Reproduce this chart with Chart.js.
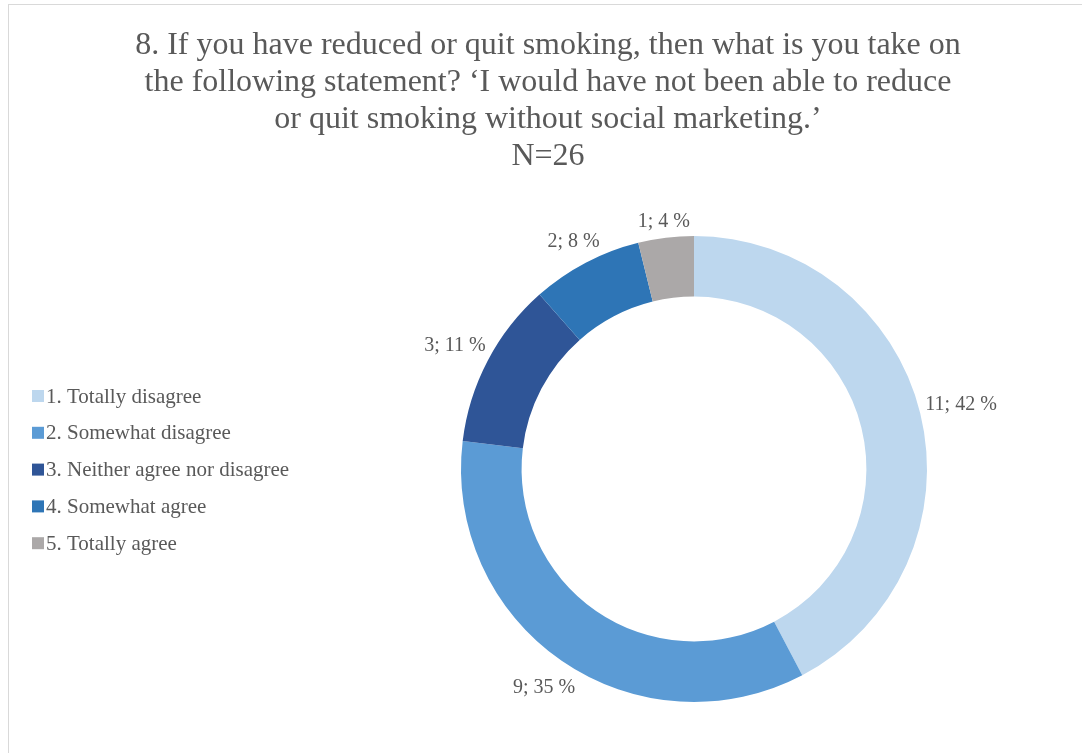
<!DOCTYPE html>
<html>
<head>
<meta charset="utf-8">
<title>Social marketing and smoking</title>
<script src="https://cdn.jsdelivr.net/npm/chart.js@4"></script>
<style>
  html, body { margin: 0; padding: 0; background: #ffffff; }
  #frame { position: absolute; left: 8px; top: 4px; width: 1074px; height: 749px;
           border-top: 1px solid #d9d9d9; border-left: 1px solid #d9d9d9; box-sizing: border-box; }
  #wrap { position: absolute; left: 0; top: 0; width: 1082px; height: 753px; }
</style>
</head>
<body>
<div id="frame"></div>
<div id="wrap"><canvas id="chart" width="1082" height="753"></canvas></div>
<script>
const titleLines = [
  "8. If you have reduced or quit smoking, then what is you take on",
  "the following statement? \u2018I would have not been able to reduce",
  "or quit smoking without social marketing.\u2019",
  "N=26"
];
const categories = [
  "1. Totally disagree",
  "2. Somewhat disagree",
  "3. Neither agree nor disagree",
  "4. Somewhat agree",
  "5. Totally agree"
];
const counts = [11, 9, 3, 2, 1];
const percentLabels = ["42 %", "35 %", "11 %", "8 %", "4 %"];
const colors = ["#BDD7EE", "#5B9BD5", "#2F5597", "#2E75B6", "#ABA8A8"];

const TEXT_COLOR = "#595959";
const FONT_FAMILY = "'Liberation Serif', 'Times New Roman', serif";

// Multi-line heading, centred over the whole canvas
const heading = {
  id: "heading",
  afterDraw(chart) {
    const ctx = chart.ctx;
    ctx.save();
    ctx.font = "32px " + FONT_FAMILY;
    ctx.fillStyle = TEXT_COLOR;
    ctx.textAlign = "center";
    ctx.textBaseline = "alphabetic";
    titleLines.forEach((line, i) => ctx.fillText(line, 548, 54 + i * 37));
    ctx.restore();
  }
};

// Legend drawn as a vertical list on the left side of the canvas
const sideLegend = {
  id: "sideLegend",
  afterDraw(chart) {
    const ctx = chart.ctx;
    ctx.save();
    ctx.font = "21px " + FONT_FAMILY;
    ctx.textBaseline = "middle";
    ctx.textAlign = "left";
    const x0 = 32, y0 = 396, step = 36.8, box = 12;
    categories.forEach((name, i) => {
      const y = y0 + i * step;
      ctx.fillStyle = colors[i];
      ctx.fillRect(x0, y - box / 2, box, box);
      ctx.fillStyle = TEXT_COLOR;
      ctx.fillText(name, x0 + box + 2, y + 1);
    });
    ctx.restore();
  }
};

// "count; percent" labels placed just outside each arc
const outsideLabels = {
  id: "outsideLabels",
  afterDatasetsDraw(chart) {
    const ctx = chart.ctx;
    const meta = chart.getDatasetMeta(0);
    ctx.save();
    ctx.font = "20px " + FONT_FAMILY;
    ctx.fillStyle = TEXT_COLOR;
    ctx.textAlign = "center";
    ctx.textBaseline = "middle";
    meta.data.forEach((arc, i) => {
      const p = arc.getProps(["x", "y", "startAngle", "endAngle", "outerRadius"], true);
      const mid = (p.startAngle + p.endAngle) / 2;
      const dx = Math.cos(mid), dy = Math.sin(mid);
      const text = counts[i] + "; " + percentLabels[i];
      const hw = ctx.measureText(text).width / 2, hh = 10;
      const r = p.outerRadius + 5 + hw * Math.abs(dx) + hh * Math.abs(dy);
      ctx.fillText(text, p.x + dx * r, p.y + dy * r + 2);
    });
    ctx.restore();
  }
};

new Chart(document.getElementById("chart"), {
  type: "doughnut",
  data: {
    labels: categories,
    datasets: [{
      data: counts,
      backgroundColor: colors,
      borderWidth: 0,
      hoverOffset: 0
    }]
  },
  options: {
    responsive: false,
    animation: false,
    cutout: "74%",
    rotation: 0,
    layout: { padding: { left: 461, right: 155, top: 236, bottom: 51 } },
    plugins: {
      legend: { display: false },
      tooltip: { enabled: false },
      title: { display: false }
    }
  },
  plugins: [heading, sideLegend, outsideLabels]
});
</script>
</body>
</html>
